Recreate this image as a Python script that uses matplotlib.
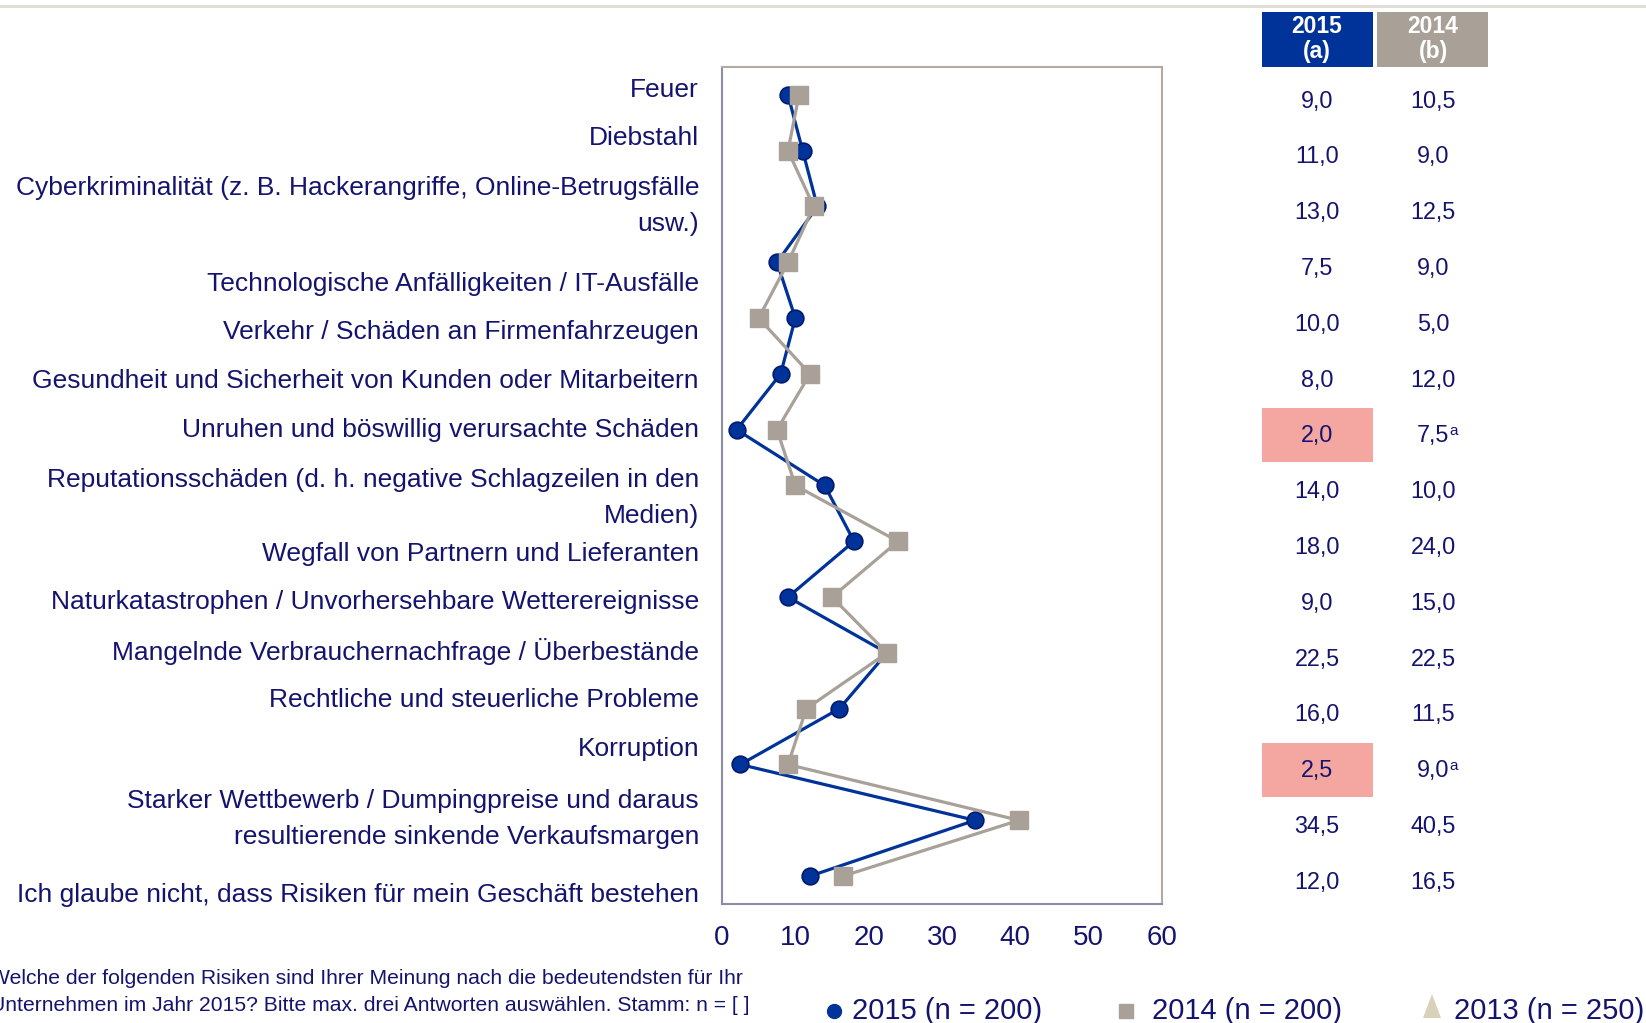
import matplotlib
matplotlib.use("Agg")
import matplotlib.pyplot as plt
import matplotlib.transforms as mtransforms
from matplotlib.lines import Line2D
from matplotlib.patches import Rectangle, Polygon

plt.rcParams["font.family"] = ["Liberation Sans", "DejaVu Sans"]

# ── Daten ──
categories = [
    "Feuer",
    "Diebstahl",
    "Cyberkriminalität (z. B. Hackerangriffe, Online-Betrugsfälle\nusw.)",
    "Technologische Anfälligkeiten / IT-Ausfälle",
    "Verkehr / Schäden an Firmenfahrzeugen",
    "Gesundheit und Sicherheit von Kunden oder Mitarbeitern",
    "Unruhen und böswillig verursachte Schäden",
    "Reputationsschäden (d. h. negative Schlagzeilen in den\nMedien)",
    "Wegfall von Partnern und Lieferanten",
    "Naturkatastrophen / Unvorhersehbare Wetterereignisse",
    "Mangelnde Verbrauchernachfrage / Überbestände",
    "Rechtliche und steuerliche Probleme",
    "Korruption",
    "Starker Wettbewerb / Dumpingpreise und daraus\nresultierende sinkende Verkaufsmargen",
    "Ich glaube nicht, dass Risiken für mein Geschäft bestehen",
]
values_2015 = [9.0, 11.0, 13.0, 7.5, 10.0, 8.0, 2.0, 14.0, 18.0, 9.0, 22.5, 16.0, 2.5, 34.5, 12.0]
values_2014 = [10.5, 9.0, 12.5, 9.0, 5.0, 12.0, 7.5, 10.0, 24.0, 15.0, 22.5, 11.5, 9.0, 40.5, 16.5]
# signifikante Unterschiede (hochgestelltes "a" in Spalte 2014, rote Markierung in 2015)
significant = [False, False, False, False, False, False, True, False, False, False, False, False, True, False, False]
x_ticks = [0, 10, 20, 30, 40, 50, 60]
legend_labels = ["2015 (n = 200)", "2014 (n = 200)", "2013 (n = 250)"]
header_labels = ["2015\n(a)", "2014\n(b)"]
footnote = ("Welche der folgenden Risiken sind Ihrer Meinung nach die bedeutendsten für Ihr\n"
            "Unternehmen im Jahr 2015? Bitte max. drei Antworten auswählen. Stamm: n = [ ]")

# Label-Positionen (y in Dateneinheiten, Textblock ist nicht an den Punkten ausgerichtet)
label_y = [-0.09, 0.77, 1.99, 3.39, 4.25, 5.12, 6.01, 7.23, 8.22, 9.09, 9.97, 10.84, 11.72, 12.97, 14.34]

# ── Farben ──
BLUE = "#003399"
BLUE_EDGE = "#001a6e"
TAUPE = "#a9a198"
BEIGE = "#d9d1b9"
NAVY = "#14146e"
PINK = "#f4a6a0"

W, H = 1646, 1023
fig = plt.figure(figsize=(W / 100, H / 100), dpi=100)


def fx(px):
    return px / W


def fy(py):
    return 1 - py / H


# ── Diagramm ──
ax = fig.add_axes([fx(722), fy(904), fx(1162) - fx(722), fy(67) - fy(904)])
y = list(range(len(categories)))
ax.plot(values_2015, y, color=BLUE, lw=2.3, marker="o", ms=12,
        mfc=BLUE, mec=BLUE_EDGE, mew=1.2, zorder=3)
ax.plot(values_2014, y, color=TAUPE, lw=2.3, marker="s", ms=13.5,
        mfc=TAUPE, mec=TAUPE, zorder=4)
ax.set_xlim(0, 60)
ax.set_ylim(14.5, -0.5)
ax.set_xticks(x_ticks)
ax.set_xticklabels([str(t) for t in x_ticks])
ax.set_yticks([])
ax.tick_params(axis="x", length=0, pad=15, labelsize=20, labelcolor=NAVY)
for side in ["left", "bottom"]:
    ax.spines[side].set_color("#8c8ca6")
for side in ["top", "right"]:
    ax.spines[side].set_color("#b3aba3")
for s in ax.spines.values():
    s.set_linewidth(1.5)

# Kategorienbeschriftung
lab_tr = mtransforms.blended_transform_factory(fig.transFigure, ax.transData)
for lab, ly in zip(categories, label_y):
    fig.text(fx(699), ly, lab, transform=lab_tr, ha="right", va="center",
             fontsize=19, color=NAVY, multialignment="right", linespacing=1.62)

# ── Tabelle ──
col_x = [1317, 1433]
box_w = 111
fig.add_artist(Rectangle((fx(1262), fy(67)), fx(box_w), fy(12) - fy(67),
                         transform=fig.transFigure, color=BLUE, lw=0))
fig.add_artist(Rectangle((fx(1377), fy(67)), fx(box_w), fy(12) - fy(67),
                         transform=fig.transFigure, color=TAUPE, lw=0))
for cx, hl in zip(col_x, header_labels):
    fig.text(fx(cx), fy(39), hl, ha="center", va="center", fontsize=16.5,
             fontweight="bold", color="white", linespacing=1.1)

for i, (a, b, sig) in enumerate(zip(values_2015, values_2014, significant)):
    ty = i + 0.11
    if sig:
        fig.add_artist(Rectangle((fx(1262), i + 0.58), fx(box_w), -0.96,
                                 transform=lab_tr, color=PINK, lw=0))
    fig.text(fx(col_x[0]), ty, f"{a:.1f}".replace(".", ","), transform=lab_tr,
             ha="center", va="center", fontsize=16.8, color=NAVY)
    t = fig.text(fx(col_x[1]), ty, f"{b:.1f}".replace(".", ","), transform=lab_tr,
                 ha="center", va="center", fontsize=16.8, color=NAVY)
    if sig:
        ax.annotate("a", xy=(1, 1), xycoords=t, ha="left", va="top",
                    fontsize=11, color=NAVY, annotation_clip=False)

# obere Trennlinie
fig.add_artist(Line2D([0, 1], [fy(6), fy(6)], transform=fig.transFigure,
                      color="#dedad4", lw=2))

# ── Fußnote ──
fig.text(fx(-10), fy(992), footnote, ha="left", va="center", fontsize=15.2,
         color=NAVY, linespacing=1.48)

# ── Legende ──
leg_y = fy(1011)
fig.add_artist(Line2D([fx(834)], [leg_y], transform=fig.transFigure, marker="o",
                      ms=10, mfc=BLUE, mec=BLUE, ls="none"))
fig.add_artist(Line2D([fx(1126)], [leg_y], transform=fig.transFigure, marker="s",
                      ms=10, mfc=TAUPE, mec=TAUPE, ls="none"))
fig.add_artist(Polygon([(fx(1423), fy(1018)), (fx(1441), fy(1018)), (fx(1432), fy(994))],
                       closed=True, transform=fig.transFigure, color=BEIGE, lw=0))
for lx, txt in zip([852, 1152, 1454], legend_labels):
    fig.text(fx(lx), leg_y, txt, ha="left", va="center", fontsize=21, color=NAVY)

fig.savefig("out.png", dpi=100)
